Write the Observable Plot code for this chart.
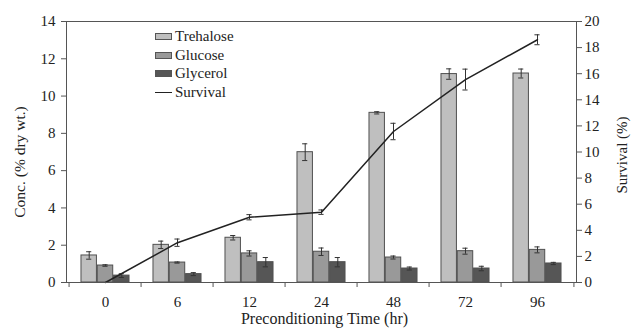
<!DOCTYPE html>
<html><head><meta charset="utf-8">
<script src="https://cdn.jsdelivr.net/npm/d3@7"></script>
<script src="https://cdn.jsdelivr.net/npm/@observablehq/plot@0.6"></script>
<style>
body{margin:0;background:#fff;}
#chart{position:relative;width:631px;height:328px;font-family:"Liberation Serif","Times New Roman",Times,"DejaVu Serif",serif;color:#222}
#chart svg, #chart svg text{font-family:"Liberation Serif","Times New Roman",Times,"DejaVu Serif",serif !important;}
.legend{position:absolute;left:155px;top:27px;font-size:15px;color:#222}
.legend div{display:flex;align-items:center;height:18.8px}
.sw{width:17px;height:7px;border:1px solid #555;margin-right:3px;box-sizing:border-box}
.ln{width:17px;height:0;border-top:1.5px solid #222;margin-right:3px}
</style></head><body><div id="chart"></div>
<script>
// ---- data ----
const times = ["0","6","12","24","48","72","96"];
const trehalose    = [1.45, 2.02, 2.40, 6.99, 9.10, 11.18, 11.21];
const trehaloseErr = [0.20, 0.20, 0.12, 0.45, 0.06, 0.28, 0.24];
const glucose      = [0.91, 1.07, 1.56, 1.65, 1.34, 1.68, 1.75];
const glucoseErr   = [0.04, 0.03, 0.14, 0.20, 0.08, 0.16, 0.16];
const glycerol     = [0.37, 0.45, 1.09, 1.09, 0.75, 0.75, 1.02];
const glycerolErr  = [0.10, 0.08, 0.25, 0.25, 0.08, 0.12, 0.06];
const survival     = [0, 3.05, 5.0, 5.39, 11.57, 15.55, 18.6];
const survivalErr  = [0, 0.28, 0.20, 0.17, 0.63, 0.80, 0.38];
const leftTicks  = d3.range(0, 15, 2);
const rightTicks = d3.range(0, 21, 2);

// ---- layout ----
const FONT = '"Liberation Serif","Times New Roman",Times,"DejaVu Serif",serif';
const W = 631, H = 328, ml = 66, mr = 55, mt = 21, mb = 46;
const B = (W - ml - mr) / times.length;   // band width
const bw = 16.3;                          // bar width
const gap = (B - 3 * bw) / 2;
const k = 14 / 20;                        // survival -> left scale
const cap = 3;

const series = [
  {name: "Trehalose", v: trehalose, e: trehaloseErr, fill: "#bfbfbf"},
  {name: "Glucose",   v: glucose,   e: glucoseErr,   fill: "#999999"},
  {name: "Glycerol",  v: glycerol,  e: glycerolErr,  fill: "#565656"}
];

const marks = [];
series.forEach((s, i) => {
  const rows = times.map((t, j) => ({time: t, v: s.v[j], e: s.e[j]}));
  const dx = (i - 1) * bw;
  marks.push(Plot.barY(rows, {x: "time", y: "v", fill: s.fill, stroke: "#505050", strokeWidth: 1,
    insetLeft: gap + i * bw, insetRight: B - gap - (i + 1) * bw}));
  marks.push(Plot.ruleX(rows, {x: "time", y1: d => d.v - d.e, y2: d => d.v + d.e, dx, stroke: "#333", strokeWidth: 1}));
  marks.push(Plot.tickY(rows, {x: "time", y: d => d.v + d.e, dx, stroke: "#333", insetLeft: B/2 - cap, insetRight: B/2 - cap}));
  marks.push(Plot.tickY(rows, {x: "time", y: d => d.v - d.e, dx, stroke: "#333", insetLeft: B/2 - cap, insetRight: B/2 - cap}));
});

const surv = times.map((t, j) => ({time: t, s: survival[j], e: survivalErr[j]}));
const survErr = surv.filter(d => d.e > 0);
marks.push(Plot.ruleX(survErr, {x: "time", y1: d => (d.s - d.e) * k, y2: d => (d.s + d.e) * k, stroke: "#333"}));
marks.push(Plot.tickY(survErr, {x: "time", y: d => (d.s + d.e) * k, stroke: "#333", insetLeft: B/2 - cap, insetRight: B/2 - cap}));
marks.push(Plot.tickY(survErr, {x: "time", y: d => (d.s - d.e) * k, stroke: "#333", insetLeft: B/2 - cap, insetRight: B/2 - cap}));
marks.push(Plot.line(surv, {x: "time", y: d => d.s * k, stroke: "#222", strokeWidth: 1.5}));

marks.push(Plot.frame({stroke: "#555"}));
marks.push(Plot.axisY(leftTicks, {anchor: "left", tickSize: 5, tickPadding: 6, fontSize: 15, label: null, stroke: "#555"}));
marks.push(Plot.axisY(rightTicks.map(v => v * k), {anchor: "right", tickSize: 5, tickPadding: 3, fontSize: 15, label: null,
  tickFormat: d => String(Math.round(d / k)), stroke: "#555"}));
marks.push(Plot.axisX({tickSize: 0, tickPadding: 14, fontSize: 15, label: null}));
marks.push(Plot.axisX({tickSize: 5, tickFormat: () => "", dx: -B / 2, label: null, stroke: "#555"}));
marks.push(Plot.axisX([times[times.length - 1]], {tickSize: 5, tickFormat: () => "", dx: B / 2, label: null, stroke: "#555"}));

marks.push(Plot.text(["Conc. (% dry wt.)"], {frameAnchor: "left", dx: -46, dy: 10, rotate: -90, fontSize: 15.5, textAnchor: "middle", lineAnchor: "middle", fill: "#222"}));
marks.push(Plot.text(["Survival (%)"], {frameAnchor: "right", dx: 46, dy: 3, rotate: -90, fontSize: 15, textAnchor: "middle", lineAnchor: "middle", fill: "#222"}));
marks.push(Plot.text(["Preconditioning Time (hr)"], {frameAnchor: "bottom", dx: 3, dy: 36, fontSize: 16, textAnchor: "middle", lineAnchor: "middle", fill: "#222"}));

const chart = Plot.plot({
  width: W, height: H,
  marginLeft: ml, marginRight: mr, marginTop: mt, marginBottom: mb,
  style: {fontFamily: FONT, fontSize: "15px", color: "#222", background: "#fff", overflow: "visible"},
  x: {domain: times, padding: 0, label: null},
  y: {domain: [0, 14], label: null},
  marks
});
const host = document.getElementById("chart");
host.appendChild(chart);

const legend = document.createElement("div");
legend.className = "legend";
series.forEach(s => {
  const row = document.createElement("div");
  row.innerHTML = `<span class="sw" style="background:${s.fill}"></span><span>${s.name}</span>`;
  legend.appendChild(row);
});
const lrow = document.createElement("div");
lrow.innerHTML = `<span class="ln"></span><span>Survival</span>`;
legend.appendChild(lrow);
host.appendChild(legend);
</script>
</body></html>
